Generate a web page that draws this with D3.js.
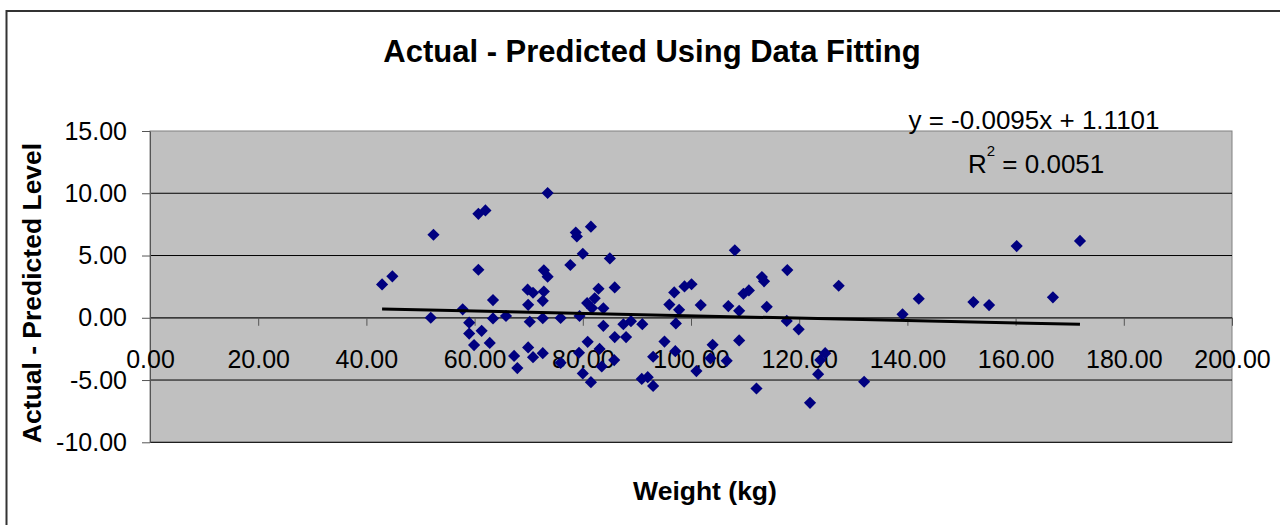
<!DOCTYPE html>
<html>
<head>
<meta charset="utf-8">
<script src="https://cdn.jsdelivr.net/npm/d3@7"></script>
<style>
  body { margin: 0; background: #fff; }
  svg { display: block; font-family: "Liberation Sans", Arial, sans-serif; }
</style>
</head>
<body>
<div id="chart"></div>
<script>
// data
var weight = [42.9, 44.8, 52.4, 51.9, 60.7, 62.0, 60.7, 63.4, 57.8, 59.0,
  59.0, 61.3, 59.9, 62.8, 63.4, 65.8, 67.3, 67.9, 73.5, 69.8,
  70.8, 69.9, 70.2, 72.8, 73.5, 72.8, 72.6, 72.6, 69.9, 70.8,
  72.6, 75.9, 75.9, 77.7, 78.7, 78.9, 80.0, 81.5, 79.4, 79.3,
  80.9, 80.0, 81.5, 80.8, 81.7, 82.2, 82.9, 83.8, 83.8, 85.0,
  85.9, 83.1, 83.5, 85.9, 85.8, 88.0, 87.5, 88.9, 91.0, 93.0,
  90.9, 92.0, 93.0, 95.1, 96.0, 96.9, 97.2, 98.8, 100.1, 97.8,
  101.8, 97.1, 101.0, 108.1, 106.9, 108.9, 109.7, 110.7, 104.0, 103.6,
  106.6, 108.9, 112.1, 117.8, 113.1, 113.5, 114.0, 127.3, 117.7, 119.9,
  124.8, 123.9, 123.5, 122.0, 132.0, 139.1, 142.1, 152.2, 155.1, 160.2,
  166.9, 171.9];
var residual = [2.68, 3.33, 6.67, 0.0, 8.35, 8.62, 3.86, 1.42, 0.68, -0.39,
  -1.27, -1.05, -2.19, -2.02, -0.05, 0.14, -3.06, -4.04, 10.02, 2.26,
  2.01, 1.04, -0.32, 3.81, 3.30, 2.11, 1.36, -0.04, -2.38, -3.16,
  -2.84, -0.02, -3.62, 4.24, 6.85, 6.53, 5.14, 7.32, 0.14, -2.81,
  -1.93, -4.47, -5.17, 1.18, 0.78, 1.56, 2.33, 0.76, -0.65, 4.77,
  2.44, -2.50, -3.91, -1.55, -3.40, -1.55, -0.52, -0.27, -0.51, -3.13,
  -4.91, -4.77, -5.47, -1.91, 1.06, 2.04, -0.45, 2.52, 2.69, 0.64,
  1.02, -2.68, -4.28, 5.42, 0.94, 0.56, 1.93, 2.20, -2.17, -3.26,
  -3.46, -1.82, -5.68, 3.83, 3.27, 2.93, 0.88, 2.57, -0.25, -0.93,
  -2.84, -3.40, -4.53, -6.83, -5.14, 0.28, 1.53, 1.26, 1.02, 5.76,
  1.64, 6.17];

var trendSlope = -0.0095;
var trendIntercept = 1.1101;
var rSquared = "0.0051";

var xTicks = [0, 20, 40, 60, 80, 100, 120, 140, 160, 180, 200];
var yTicks = [-10, -5, 0, 5, 10, 15];

var points = weight.map(function (w, i) {
  return { x: w, y: residual[i] };
});

var width = 1280;
var height = 525;

var plot = { left: 150, right: 1232, top: 131, bottom: 442.3 };

var x = d3.scaleLinear().domain([0, 200]).range([plot.left, plot.right]);
var y = d3.scaleLinear().domain([-10, 15]).range([plot.bottom, plot.top]);

var fmt = function (d) {
  return d.toFixed(2);
};

var svg = d3
  .select("#chart")
  .append("svg")
  .attr("width", width)
  .attr("height", height);

// chart border
svg
  .append("rect")
  .attr("x", 6.5)
  .attr("y", 11)
  .attr("width", width + 20)
  .attr("height", height + 20)
  .attr("fill", "#fff")
  .attr("stroke", "#333")
  .attr("stroke-width", 2);

// plot area
svg
  .append("rect")
  .attr("x", plot.left)
  .attr("y", plot.top)
  .attr("width", plot.right - plot.left)
  .attr("height", plot.bottom - plot.top)
  .attr("fill", "#c0c0c0")
  .attr("stroke", "#808080")
  .attr("stroke-width", 1);

// gridlines
svg
  .append("g")
  .selectAll("line")
  .data(yTicks.filter(function (d) { return d !== 15; }))
  .enter()
  .append("line")
  .attr("x1", plot.left)
  .attr("x2", plot.right)
  .attr("y1", function (d) { return y(d); })
  .attr("y2", function (d) { return y(d); })
  .attr("stroke", "#000")
  .attr("stroke-width", 1);

// axes
var yAxis = svg
  .append("g")
  .attr("transform", "translate(" + plot.left + ",0)")
  .call(
    d3.axisLeft(y).tickValues(yTicks).tickSize(8).tickSizeOuter(0).tickPadding(15).tickFormat(fmt)
  );

var xAxis = svg
  .append("g")
  .attr("transform", "translate(0," + y(0) + ")")
  .call(
    d3.axisBottom(x).tickValues(xTicks).tickSize(8).tickSizeOuter(0).tickPadding(24.5).tickFormat(fmt)
  );

[xAxis, yAxis].forEach(function (a) {
  a.selectAll("path").attr("stroke", "#555");
  a.selectAll("line").attr("stroke", "#555");
  a.selectAll("text")
    .attr("fill", "#000")
    .style("font-size", "25px")
    .style("font-family", '"Liberation Sans", Arial, sans-serif');
});

// points
svg
  .append("g")
  .selectAll("path")
  .data(points)
  .enter()
  .append("path")
  .attr("d", d3.symbol().type(d3.symbolSquare).size(74))
  .attr("transform", function (d) {
    return "translate(" + x(d.x) + "," + y(d.y) + ") rotate(45)";
  })
  .attr("fill", "#000080");

// trendline
var xExt = d3.extent(weight);
var trendLine = d3
  .line()
  .x(function (d) { return x(d); })
  .y(function (d) { return y(trendSlope * d + trendIntercept); });

svg
  .append("path")
  .datum(xExt)
  .attr("d", trendLine)
  .attr("fill", "none")
  .attr("stroke", "#000")
  .attr("stroke-width", 3);

// equation labels
svg
  .append("text")
  .attr("x", 1034)
  .attr("y", 129)
  .attr("text-anchor", "middle")
  .style("font-size", "26px")
  .text("y = " + trendSlope + "x + " + trendIntercept);

var r2 = svg
  .append("text")
  .attr("x", 968)
  .attr("y", 173)
  .style("font-size", "26px");
r2.append("tspan").text("R");
r2.append("tspan").attr("dy", -17).style("font-size", "15px").text("2");
r2.append("tspan").attr("dy", 17).text(" = " + rSquared);

// title
svg
  .append("text")
  .attr("x", 652)
  .attr("y", 62)
  .attr("text-anchor", "middle")
  .style("font-size", "31px")
  .style("font-weight", "bold")
  .text("Actual - Predicted Using Data Fitting");

svg
  .append("text")
  .attr("x", 705)
  .attr("y", 500)
  .attr("text-anchor", "middle")
  .style("font-size", "26.5px")
  .style("font-weight", "bold")
  .text("Weight (kg)");

svg
  .append("text")
  .attr("transform", "translate(41,293) rotate(-90)")
  .attr("text-anchor", "middle")
  .style("font-size", "26.5px")
  .style("font-weight", "bold")
  .text("Actual - Predicted Level");
</script>
</body>
</html>
